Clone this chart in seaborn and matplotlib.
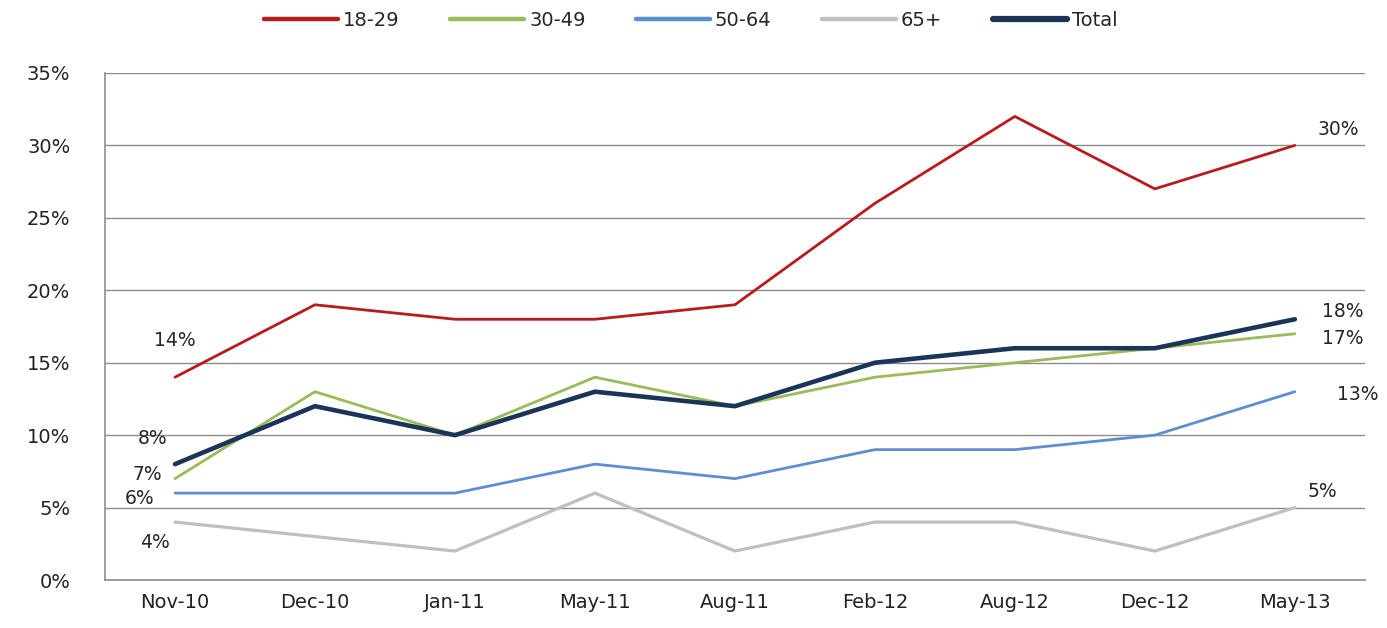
import pandas as pd
import numpy as np
import matplotlib.pyplot as plt
import seaborn as sns
from matplotlib.ticker import FuncFormatter

sns.set_style("white")
plt.rcParams['font.family'] = ['DejaVu Sans']

### Data
months = ["Nov-10", "Dec-10", "Jan-11", "May-11", "Aug-11", "Feb-12", "Aug-12", "Dec-12", "May-13"]
age_18_29 = [14, 19, 18, 18, 19, 26, 32, 27, 30]
age_30_49 = [7, 13, 10, 14, 12, 14, 15, 16, 17]
age_50_64 = [6, 6, 6, 8, 7, 9, 9, 10, 13]
age_65p = [4, 3, 2, 6, 2, 4, 4, 2, 5]
total = [8, 12, 10, 13, 12, 15, 16, 16, 18]

series = ["18-29", "30-49", "50-64", "65+", "Total"]
values = [age_18_29, age_30_49, age_50_64, age_65p, total]

rows = []
for name, vals in zip(series, values):
    for i, v in enumerate(vals):
        rows.append({"series": name, "pos": i, "month": months[i], "pct": v})
df = pd.DataFrame(rows)

colors = {"18-29": "#B81A1E", "30-49": "#9BBB59", "50-64": "#5B8FD0",
          "65+": "#BFBFBF", "Total": "#1B3558"}
widths = {"18-29": 2.0, "30-49": 2.0, "50-64": 2.0, "65+": 2.3, "Total": 3.3}

fig = plt.figure(figsize=(13.87, 6.28), dpi=100)
ax = fig.add_axes([0.0757, 0.0764, 0.9083, 0.8074])

for name in series:
    sns.lineplot(data=df[df.series == name], x="pos", y="pct", ax=ax,
                 color=colors[name], linewidth=widths[name], label=name,
                 solid_capstyle="round")

ax.set_xlim(-0.5, len(months) - 0.5)
ax.set_ylim(0, 35)
ax.set_yticks(range(0, 36, 5))
ax.yaxis.set_major_formatter(FuncFormatter(lambda v, p: f"{v:.0f}%"))
ax.set_xticks(range(len(months)))
ax.set_xticklabels(months)
ax.set_xlabel("")
ax.set_ylabel("")
ax.tick_params(axis="both", labelsize=14, colors="#222222", length=0)
ax.tick_params(axis="x", pad=9)
ax.tick_params(axis="y", pad=25)
ax.grid(axis="y", color="#8C8C8C", linewidth=1.0)
for s in ["top", "right"]:
    ax.spines[s].set_visible(False)
for s in ["left", "bottom"]:
    ax.spines[s].set_color("#8C8C8C")
    ax.spines[s].set_linewidth(1.2)

## Data labels (start and end points)
fs = 13.5
last = len(months) - 1
ax.text(0, age_18_29[0] + 2.5, f"{age_18_29[0]}%", fontsize=fs, ha="center", va="center")
ax.text(-0.16, total[0] + 1.8, f"{total[0]}%", fontsize=fs, ha="center", va="center")
ax.text(-0.2, age_30_49[0] + 0.3, f"{age_30_49[0]}%", fontsize=fs, ha="center", va="center")
ax.text(-0.25, age_50_64[0] - 0.4, f"{age_50_64[0]}%", fontsize=fs, ha="center", va="center")
ax.text(-0.14, age_65p[0] - 1.4, f"{age_65p[0]}%", fontsize=fs, ha="center", va="center")
ax.text(last + 0.31, age_18_29[last] + 1.1, f"{age_18_29[last]}%", fontsize=fs, ha="center", va="center")
ax.text(last + 0.34, total[last] + 0.55, f"{total[last]}%", fontsize=fs, ha="center", va="center")
ax.text(last + 0.34, age_30_49[last] - 0.35, f"{age_30_49[last]}%", fontsize=fs, ha="center", va="center")
ax.text(last + 0.45, age_50_64[last] - 0.2, f"{age_50_64[last]}%", fontsize=fs, ha="center", va="center")
ax.text(last + 0.2, age_65p[last] + 1.1, f"{age_65p[last]}%", fontsize=fs, ha="center", va="center")

leg = ax.legend(loc="lower center", bbox_to_anchor=(0.465, 1.05), ncol=5, frameon=False,
                fontsize=14, handlelength=3.8, handletextpad=0.25, columnspacing=2.6)
for line, name in zip(leg.get_lines(), series):
    line.set_linewidth(4.5 if name == "Total" else 3.2)

fig.savefig("out.png", dpi=100)
